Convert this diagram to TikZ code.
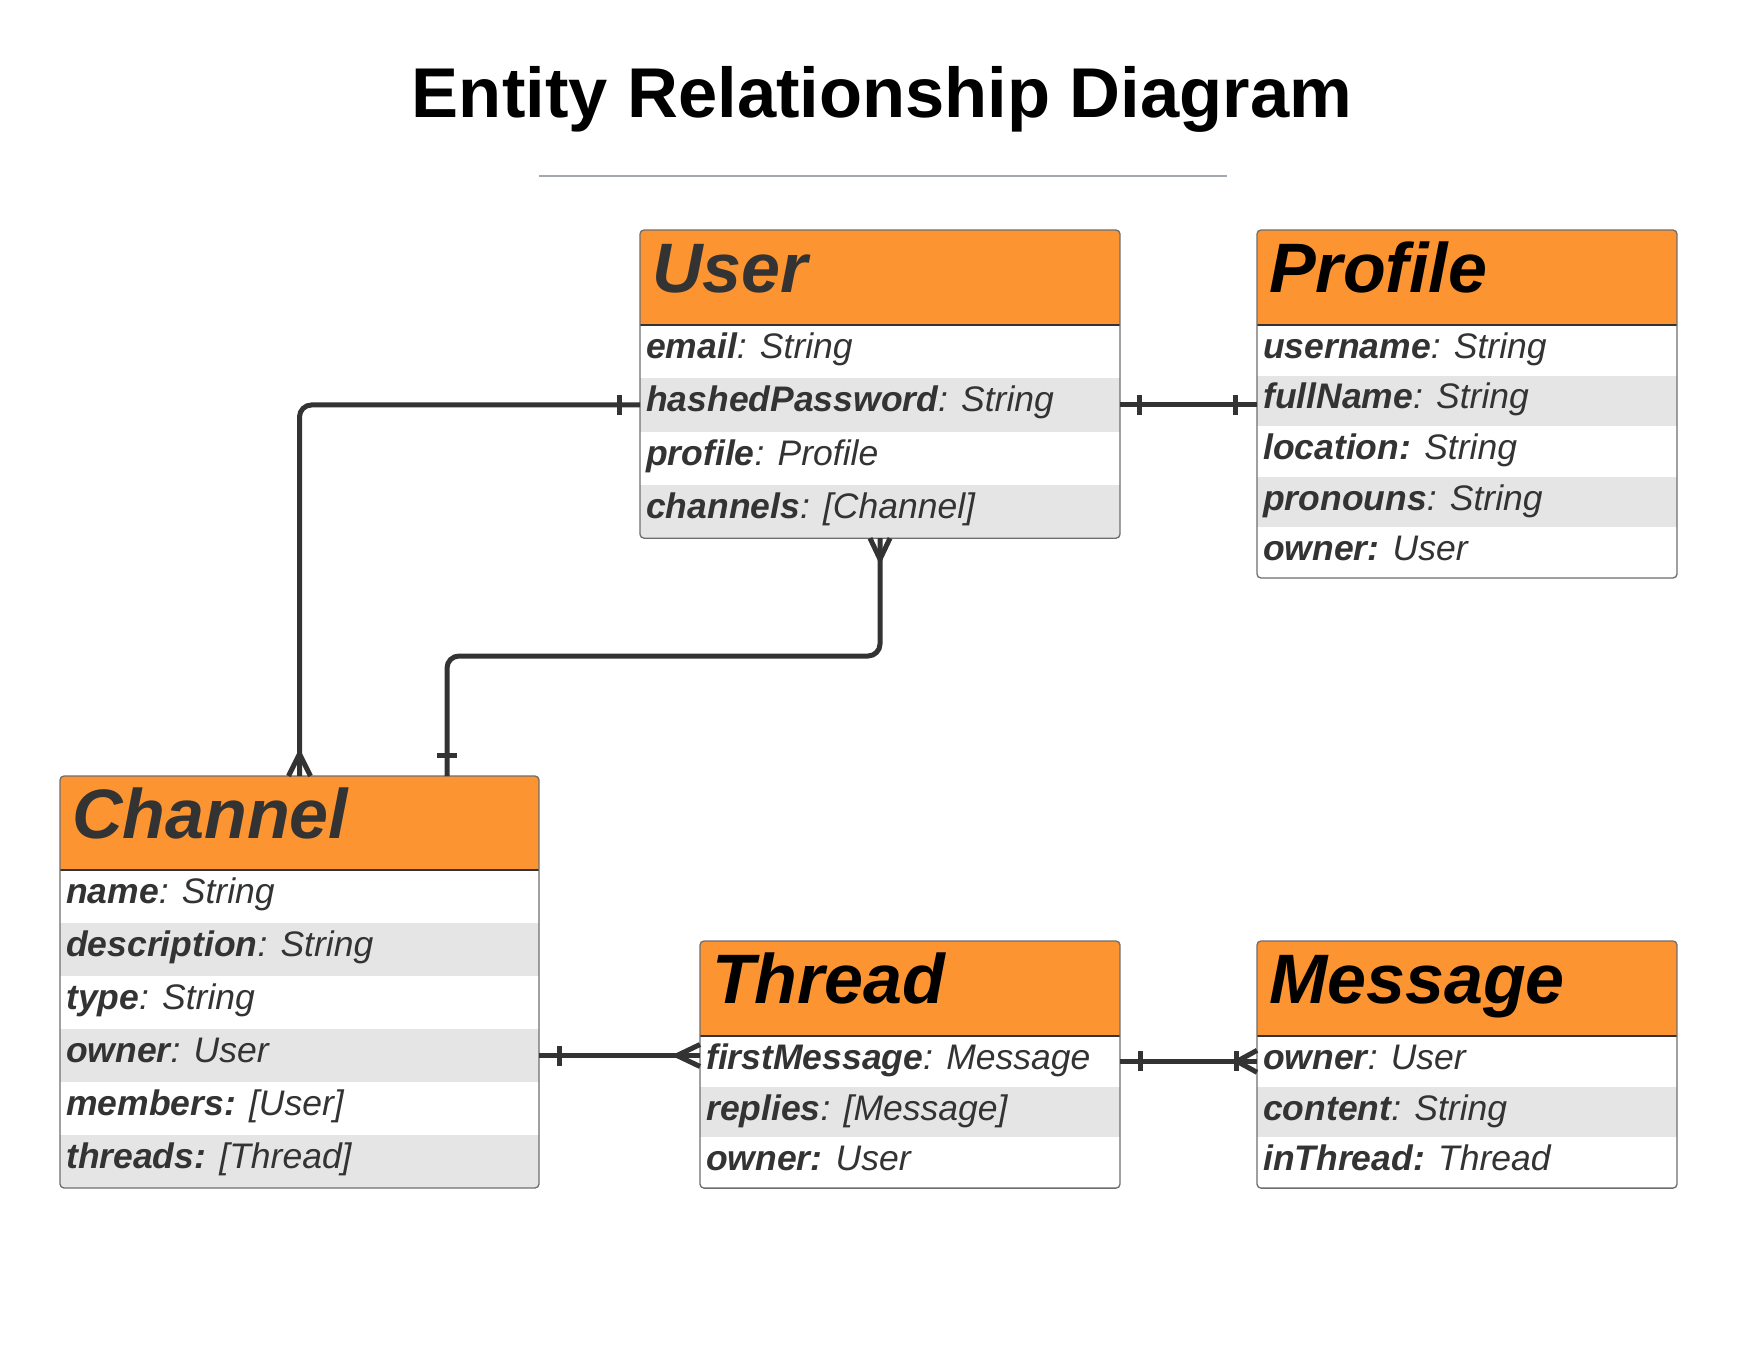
\documentclass[tikz,border=0pt]{standalone}
\usepackage{fontspec}
\setmainfont{Liberation Sans}
\usetikzlibrary{calc}
\definecolor{erorange}{RGB}{252,148,50}
\definecolor{errow}{RGB}{229,229,229}
\definecolor{erdark}{RGB}{51,51,51}
\definecolor{erline}{RGB}{164,168,176}
\definecolor{erborder}{RGB}{110,110,110}
\tikzset{
  entity/.style={fill=white, inner sep=0pt, outer sep=0pt, rectangle},
  headbox/.style={fill=erorange, inner sep=0pt, outer sep=0pt, rectangle},
  rowbox/.style={inner sep=0pt, outer sep=0pt, rectangle},
  headtext/.style={font=\fontsize{70}{80}\selectfont\bfseries\itshape, inner sep=0pt, anchor=base west},
  rowtext/.style={font=\fontsize{35.5}{40}\selectfont\itshape, text=erdark, inner sep=0pt, anchor=base west},
  border/.style={draw=erborder, line width=1.3pt, rounded corners=4pt},
  hline/.style={draw=erdark, line width=1.5pt},
  conn/.style={draw=erdark, line width=5pt, rounded corners=12pt},
  ermark/.style={draw=erdark, line width=5pt},
}
% #1 name, #2 x, #3 y, #4 width, #5 header height, #6 row height, #7 rows, #8 title colour, #9 title
\newcommand{\erbox}[9]{%
  \pgfmathsetmacro\erH{#5+#7*#6}%
  \node[entity, minimum width=#4, minimum height=\erH, anchor=north west] (#1) at (#2,#3) {};
  \begin{scope}
    \clip[rounded corners=4pt] (#1.north west) rectangle (#1.south east);
    \node[headbox, minimum width=#4, minimum height=#5, anchor=north west] (#1-h) at (#1.north west) {};
    \foreach \i in {1,...,#7} {
      \ifodd\i \def\erfill{white}\else\def\erfill{errow}\fi
      \node[rowbox, fill=\erfill, minimum width=#4, minimum height=#6, anchor=north west]
        (#1-r\i) at ($(#1.north west)+(0,{#5+(\i-1)*#6})$) {};
    }
  \end{scope}
  \draw[hline] (#1-h.south west) -- (#1-h.south east);
  \draw[border] (#1.north west) rectangle (#1.south east);
  \node[headtext, text=#8] (#1-t) at ($(#1.north west)+(12,62)$) {#9};
}
\begin{document}
\begin{tikzpicture}[x=1pt, y=-1pt]
\useasboundingbox (0,0) rectangle (1759,1359);
\fill[white] (0,0) rectangle (1759,1359);

% title
\node[font=\fontsize{70.5}{80}\selectfont\bfseries, anchor=base, inner sep=0pt] (title) at (882,118) {Entity Relationship Diagram};
\draw[erline, line width=2pt] (539,176) -- (1227,176);

% entities
\erbox{user}{640}{230}{480}{95}{53.3}{4}{erdark}{User}
\erbox{profile}{1257}{230}{420}{95}{50.6}{5}{black}{Profile}
\erbox{channel}{60}{776}{479}{94}{53}{6}{erdark}{Channel}
\erbox{thread}{700}{941}{420}{95}{50.7}{3}{black}{Thread}
\erbox{message}{1257}{941}{420}{95}{50.7}{3}{black}{Message}

% row texts
\foreach \t [count=\i] in {{\textbf{email}: String},{\textbf{hashedPassword}: String},{\textbf{profile}: Profile},{\textbf{channels}: [Channel]}}
  \node[rowtext] at ([xshift=6pt,yshift=-7pt]user-r\i.west) {\t};
\foreach \t [count=\i] in {{\textbf{username}: String},{\textbf{fullName}: String},{\textbf{location:} String},{\textbf{pronouns}: String},{\textbf{owner:} User}}
  \node[rowtext] at ([xshift=6pt,yshift=-8pt]profile-r\i.west) {\t};
\foreach \t [count=\i] in {{\textbf{name}: String},{\textbf{description}: String},{\textbf{type}: String},{\textbf{owner}: User},{\textbf{members:} [User]},{\textbf{threads:} [Thread]}}
  \node[rowtext] at ([xshift=6pt,yshift=-7pt]channel-r\i.west) {\t};
\foreach \t [count=\i] in {{\textbf{firstMessage}: Message},{\textbf{replies}: [Message]},{\textbf{owner:} User}}
  \node[rowtext] at ([xshift=6pt,yshift=-8pt]thread-r\i.west) {\t};
\foreach \t [count=\i] in {{\textbf{owner}: User},{\textbf{content}: String},{\textbf{inThread:} Thread}}
  \node[rowtext] at ([xshift=6pt,yshift=-8pt]message-r\i.west) {\t};

% connector: User -- Channel (owner)
\draw[conn] (user-r2.west) -| (channel.north);
\draw[ermark] ($(user-r2.west)+(-21,-10)$) -- ++(0,20);
\draw[ermark] ($(channel.north)+(-11,0)$) -- ($(channel.north)+(0,-22)$) -- ($(channel.north)+(11,0)$);

% connector: User -- Channel (channels)
\coordinate (c2bend) at (447,656);
\draw[conn] (user.south) -- (user.south |- c2bend) -- (c2bend) -- (c2bend |- channel.north);
\draw[ermark] ($(user.south)+(-10,0)$) -- ($(user.south)+(0,21)$) -- ($(user.south)+(10,0)$);
\draw[ermark] ($(c2bend |- channel.north)+(-10,-21)$) -- ++(20,0);

% connector: User -- Profile
\draw[conn] (user-r2.east) -- (user-r2.east -| profile.west);
\draw[ermark] ($(user-r2.east)+(19,-10)$) -- ++(0,20);
\draw[ermark] ($(user-r2.east -| profile.west)+(-22,-10)$) -- ++(0,20);

% connector: Channel -- Thread
\draw[conn] (channel-r4.east) -- (channel-r4.east -| thread.west);
\draw[ermark] ($(channel-r4.east)+(20,-10)$) -- ++(0,20);
\draw[ermark] ($(channel-r4.east -| thread.west)+(0,-11)$) -- ($(channel-r4.east -| thread.west)+(-23,0)$) -- ($(channel-r4.east -| thread.west)+(0,11)$);

% connector: Thread -- Message
\draw[conn] (thread-r1.east) -- (message-r1.west);
\draw[ermark] ($(thread-r1.east)+(20,-10)$) -- ++(0,20);
\draw[ermark] ($(message-r1.west)+(-21,-10)$) -- ++(0,20);
\draw[ermark] ($(message-r1.west)+(0,-11)$) -- ($(message-r1.west)+(-20,0)$) -- ($(message-r1.west)+(0,11)$);
\end{tikzpicture}
\end{document}
